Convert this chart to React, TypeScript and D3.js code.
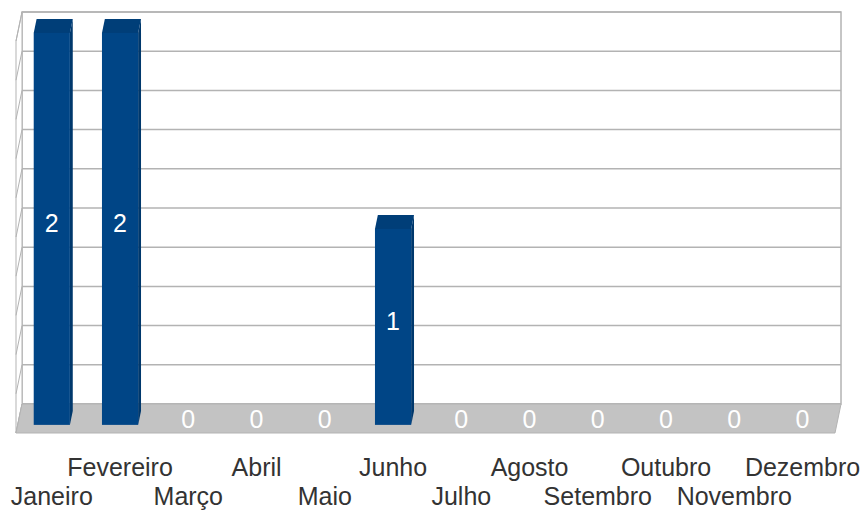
import * as d3 from "d3";

const months = [
  "Janeiro", "Fevereiro", "Março", "Abril", "Maio", "Junho",
  "Julho", "Agosto", "Setembro", "Outubro", "Novembro", "Dezembro",
];
const counts = [2, 2, 0, 0, 0, 1, 0, 0, 0, 0, 0, 0];
const yTicks = [0, 0.2, 0.4, 0.6, 0.8, 1, 1.2, 1.4, 1.6, 1.8, 2];

const W = 867;
const H = 512;
// oblique depth: moving from the front edge (z=0) to the back wall (z=1)
const DEPTH_X = 6;
const DEPTH_Y = 29;
const BAR_Z0 = 0.28;
const BAR_Z1 = 0.76;

const FONT = "'Liberation Sans', Arial, sans-serif";

export default function App() {
  const x = d3.scaleBand<string>()
    .domain(months)
    .range([16, 835])
    .paddingInner(0.47)
    .paddingOuter(0.235);

  const y = d3.scaleLinear().domain([0, 2]).range([404, 12]);

  // project (screen x at front, value, depth z) -> screen point
  const px = (sx: number, z: number) => sx + DEPTH_X * z;
  const py = (v: number, z: number) => y(v) + DEPTH_Y * (1 - z);

  const backL = px(16, 1);
  const backR = px(835, 1);

  const pts = (arr: [number, number][]) => arr.map(p => p.join(",")).join(" ");

  return (
    <svg width={W} height={H} style={{ position: "absolute", left: 0, top: 0 }}>
      {/* back wall */}
      <rect x={backL} y={y(2)} width={backR - backL} height={y(0) - y(2)}
        fill="#fff" stroke="#b3b3b3" strokeWidth={1.5} />
      {/* left wall */}
      <polygon
        points={pts([[px(16, 1), py(2, 1)], [px(16, 1), py(0, 1)], [px(16, 0), py(0, 0)], [px(16, 0), py(2, 0)]])}
        fill="#fff" stroke="#b3b3b3" strokeWidth={1} />
      {/* grid lines */}
      {yTicks.map(t => (
        <g key={t}>
          <line x1={backL} x2={backR} y1={y(t)} y2={y(t)} stroke="#b3b3b3" strokeWidth={1.5} />
          <line x1={px(16, 1)} y1={py(t, 1)} x2={px(16, 0)} y2={py(t, 0)} stroke="#b3b3b3" strokeWidth={1} />
        </g>
      ))}
      {/* floor */}
      <polygon
        points={pts([[px(16, 1), py(0, 1)], [px(835, 1), py(0, 1)], [px(835, 0), py(0, 0)], [px(16, 0), py(0, 0)]])}
        fill="#c3c3c3" stroke="#b3b3b3" strokeWidth={1} />

      {/* bars */}
      {months.map((m, i) => {
        const v = counts[i];
        const x0 = x(m)!;
        const bw = x.bandwidth();
        const fl = px(x0, BAR_Z0);
        const fr = px(x0 + bw, BAR_Z0);
        const bl = px(x0, BAR_Z1);
        const br = px(x0 + bw, BAR_Z1);
        const ft = py(v, BAR_Z0);
        const fb = py(0, BAR_Z0);
        const bt = py(v, BAR_Z1);
        const bb = py(0, BAR_Z1);
        const mid = (ft + fb) / 2;
        return (
          <g key={m}>
            {v > 0 && (
              <>
                <polygon points={pts([[fr, ft], [br, bt], [br, bb], [fr, fb]])} fill="#00386c" />
                <polygon points={pts([[fl, ft], [bl, bt], [br, bt], [fr, ft]])} fill="#003e78" />
                <rect x={fl} y={ft} width={fr - fl} height={fb - ft} fill="#004586" />
              </>
            )}
            <text x={(fl + fr) / 2} y={mid + 3} fill="#fff" fontSize={25}
              fontFamily={FONT} textAnchor="middle">{v}</text>
          </g>
        );
      })}

      {/* category labels, staggered */}
      {months.map((m, i) => {
        const cx = px(x(m)! + x.bandwidth() / 2, BAR_Z0);
        return (
          <text key={m} x={cx} y={i % 2 === 0 ? 505 : 476} fill="#333" fontSize={25}
            fontFamily={FONT} textAnchor="middle">{m}</text>
        );
      })}
    </svg>
  );
}
